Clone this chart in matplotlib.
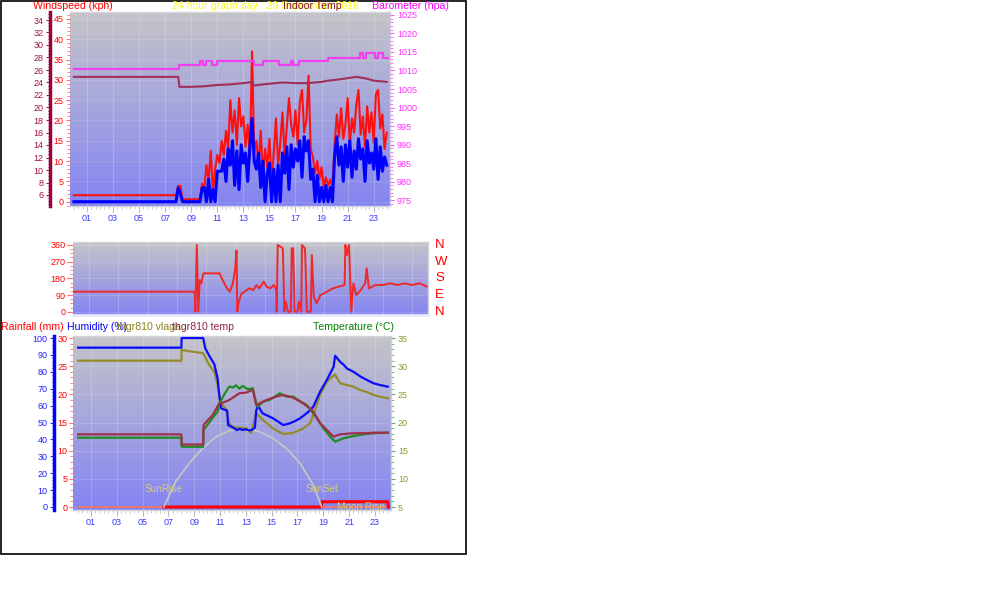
import numpy as np
import matplotlib
matplotlib.use('Agg')
import matplotlib.pyplot as plt
from matplotlib.ticker import FixedLocator, MultipleLocator
from matplotlib.patches import Rectangle

plt.rcParams['font.family'] = ['Liberation Sans', 'DejaVu Sans']

## ---- data ----
# wind, one sample every 10 minutes from 00:00 to 24:00 (kph)
wind_gust = [1.6]*48 + [3.9, 3.9] + [0.6]*9 + [4.5,
    3.0, 9.0, 5.5, 12.5, 2.0, 8.0,
    11.5, 9.5, 15.0, 11.5, 17.5, 13.0,
    25.0, 17.0, 22.5, 14.0, 25.5, 18.5,
    21.0, 13.5, 19.0, 11.0, 37.0, 12.0,
    15.0, 9.0, 17.5, 6.5, 13.0, 8.5,
    15.5, 5.0, 12.0, 20.5, 9.0, 14.5,
    22.0, 11.0, 18.5, 25.5, 19.0, 16.0,
    22.5, 14.0, 24.5, 27.5, 17.0, 20.0,
    31.0, 13.0, 11.0, 7.0, 10.0, 5.5,
    8.5, 3.5, 6.0, 4.0, 5.5, 3.5,
    14.0, 21.5, 16.0, 23.0, 15.5, 19.0,
    25.5, 14.0, 20.5, 17.0, 24.0, 27.5,
    16.5, 21.0, 13.5, 23.5, 17.0, 22.0,
    14.5, 26.5, 27.5, 18.0, 21.5, 13.0, 17.0]
wind_avg = [0.0]*48 + [3.4, 2.0] + [0.0]*9 + [3.3,
    3.5, 0.0, 5.5, 0.0, 3.0, 0.0,
    7.5, 7.5, 7.5, 10.5, 5.0, 13.0,
    9.0, 15.0, 4.0, 12.5, 3.0, 14.0,
    9.5, 12.0, 5.0, 13.5, 20.5, 10.0,
    8.0, 12.0, 3.5, 10.0, 0.0, 7.0,
    9.5, 0.0, 8.0, 0.0, 9.0, 0.0,
    12.0, 7.0, 13.5, 3.0, 14.0, 8.5,
    13.0, 10.0, 15.0, 6.0, 16.0, 12.5,
    15.0, 5.5, 8.0, 0.0, 6.5, 0.0,
    3.5, 0.0, 4.0, 0.0, 3.5, 0.0,
    11.0, 16.0, 9.0, 13.5, 5.0, 14.0,
    8.5, 15.0, 6.0, 12.5, 8.0, 15.5,
    10.5, 13.0, 5.0, 15.0, 9.5, 12.0,
    8.0, 15.5, 5.5, 13.5, 7.5, 11.0, 9.0]
wind_hours = np.arange(len(wind_gust)) / 6.0

# barometer (hpa), steps
baro_hours = [0, 8.03, 9.70, 9.88, 10.14, 10.61, 10.99, 13.82, 14.47, 15.75, 16.65, 16.78, 17.3,
              19.5, 21.98, 22.2, 22.44, 23.09, 23.35, 23.73, 24.1]
baro_vals = [1010.5, 1011.5, 1012.6, 1011.5, 1012.6, 1011.5, 1012.6, 1011.5, 1012.6, 1011.5, 1012.6,
             1011.5, 1012.6, 1013.5, 1014.6, 1013.5, 1014.6, 1013.5, 1014.6, 1013.5, 1013.5]

# indoor temp (C)
indoor_hours = [0, 8.0, 8.1, 9, 10, 11, 12, 13, 13.7, 13.8, 14.5, 15, 16, 17, 18, 19, 19.5, 20, 21, 21.7, 22.5, 23, 24]
indoor_vals = [24.9, 24.9, 23.3, 23.3, 23.4, 23.6, 23.7, 23.9, 24.1, 23.5, 23.7, 23.8, 24.0, 23.9, 23.9,
               24.1, 24.3, 24.4, 24.7, 24.9, 24.6, 24.3, 24.1]

# wind direction (deg)
dir_hours = [0, 8.2, 8.25, 8.35, 8.45, 8.55, 8.65, 8.8, 9.9, 10.1, 10.4, 10.6, 10.8, 10.95, 11.05, 11.1,
             11.2, 11.4, 11.6, 11.9, 12.2, 12.4, 12.6, 12.9, 13.1, 13.35, 13.6, 13.75, 13.78, 13.85, 14.2,
             14.3, 14.4, 14.55, 14.75, 14.8, 14.9, 15.0, 15.2, 15.3, 15.45, 15.5, 15.7, 15.72, 15.83, 16.1,
             16.17, 16.3, 16.5, 16.75, 17.0, 17.6, 18.0, 18.4, 18.45, 18.55, 18.7, 18.85, 19.0, 19.2,
             19.5, 19.8, 19.9, 20.05, 20.5, 21.0, 21.5, 22.0, 22.5, 23.0, 23.5, 24.0]
dir_vals = [108, 108, 0, 360, 0, 171, 153, 207, 207, 171, 126, 108, 153, 225, 330, 0,
            54, 99, 108, 126, 117, 144, 126, 162, 135, 126, 144, 117, 0, 360, 342,
            0, 54, 0, 0, 342, 342, 0, 0, 54, 0, 360, 342, 315, 0, 0,
            306, 81, 45, 90, 99, 126, 135, 144, 360, 306, 360, 0, 153, 90,
            117, 153, 234, 126, 144, 144, 153, 144, 153, 144, 153, 135]

# outdoor humidity (%)
hum_hours = [0, 8.0, 8.02, 9.69, 9.85, 10.16, 10.55, 10.81, 10.94, 11.07, 11.55, 11.62, 12.0, 12.3, 12.5,
             12.8, 13.0, 13.3, 13.5, 13.7, 13.8, 13.93, 14.3, 14.7, 15.1, 15.5, 15.9, 16.4, 16.8, 17.2,
             17.7, 18.0, 18.23, 18.75, 19.27, 19.8, 19.92, 20.3, 20.6, 20.83, 21.35, 21.9, 22.4, 22.9,
             23.4, 24.0]
hum_vals = [94.3, 94.3, 100, 100, 94.0, 89.5, 84.6, 76.0, 66.0, 58.4, 57.0, 48.5, 47.0, 45.5, 46.2,
            45.6, 46.0, 45.3, 45.8, 47.0, 57.0, 60.0, 55.4, 54.0, 52.5, 50.5, 48.5, 49.5, 50.8, 52.5,
            55.4, 57.4, 59.4, 68.2, 75.1, 83.0, 89.5, 86.0, 84.0, 82.0, 80.0, 77.1, 75.1, 73.2,
            72.2, 71.2]

# thgr810 vlaga (%)
vlaga_hours = [0, 8.0, 8.02, 9.69, 10.16, 10.55, 10.81, 11.07, 11.46, 11.72, 11.98, 13.02, 13.4, 13.8,
               14.32, 15.1, 15.89, 16.67, 17.45, 17.97, 18.23, 18.49, 18.75, 19.27, 19.9, 20.31, 20.83,
               21.35, 21.87, 22.4, 22.9, 23.4, 24.0]
vlaga_vals = [86.6, 86.6, 92.9, 91.0, 84.0, 80.0, 72.2, 61.4, 58.0, 49.5, 47.2, 46.6, 43.8, 55.4,
              51.5, 46.5, 43.2, 43.8, 46.5, 49.5, 54.4, 60.4, 66.3, 74.1, 78.5, 73.2, 72.2,
              71.2, 69.2, 68.0, 66.3, 65.3, 64.3]

# outdoor temperature (C)
temp_hours = [0, 8.0, 8.02, 9.69, 9.72, 10.42, 10.81, 10.94, 11.46, 11.72, 11.98, 12.24, 12.5, 12.76,
              13.15, 13.54, 13.8, 13.93, 14.32, 14.84, 15.63, 16.15, 16.67, 17.19, 17.71, 18.1, 18.5,
              19.0, 19.53, 19.92, 20.57, 21.35, 22.1, 22.9, 24.0]
temp_vals = [17.3, 17.3, 15.7, 15.7, 18.7, 20.8, 21.9, 23.4, 25.5, 26.4, 26.2, 26.6, 26.0, 26.5,
             25.9, 26.1, 23.4, 22.8, 23.7, 24.0, 25.2, 24.6, 24.6, 23.8, 23.1, 22.0, 20.8,
             19.0, 17.5, 16.6, 17.2, 17.6, 17.9, 18.1, 18.2]

# thgr810 temp (C)
t810_hours = [0, 8.0, 8.02, 9.69, 9.72, 10.42, 10.94, 11.2, 11.72, 12.5, 13.0, 13.54, 13.8, 14.06, 14.6,
              15.37, 15.89, 16.67, 17.45, 17.97, 18.23, 18.75, 19.53, 19.79, 20.31, 21.35, 22.4, 22.9, 24.0]
t810_vals = [17.9, 17.9, 16.1, 16.1, 19.6, 21.3, 23.4, 23.5, 24.0, 25.2, 25.3, 25.8, 23.1, 23.4, 24.0,
             24.6, 24.9, 24.4, 23.4, 22.5, 21.9, 19.9, 18.1, 17.5, 17.9, 18.1, 18.1, 18.2, 18.2]

# sun elevation curve (drawn in humidity units)
sun_hours = [6.64, 7.55, 8.6, 9.64, 10.7, 11.7, 12.9, 14.06, 15.1, 16.15, 17.2, 18.23, 18.88]
sun_vals = [0, 15, 25.8, 34.7, 41.6, 45.1, 46.6, 44.6, 40.7, 34.7, 25.9, 13, 0]

# rainfall (mm) and sun / moon indicator
rain_hours = [0, 24]
rain_vals = [0, 0]
moon_hours = [6.64, 18.85, 18.9, 24.0, 24.05]
moon_vals = [0, 0, 0.94, 0.94, 0]

hour_labels = ['%02d' % h for h in range(1, 24, 2)]
compass = ['N', 'W', 'S', 'E', 'N']
compass_deg = [360, 270, 180, 90, 0]

W, H = 1008, 615
PX = 72. / 100  # points per pixel


def box(x0, y0, x1, y1):
    return [x0/W, 1-y1/H, (x1-x0)/W, (y1-y0)/H]


def backdrop(ax):
    g = np.linspace(0, 1, 256)
    top = np.array([196, 196, 200])/255.
    mid = np.array([168, 168, 220])/255.
    bot = np.array([132, 132, 242])/255.
    img = np.zeros((256, 1, 3))
    for i, t in enumerate(g):
        if t < 0.45:
            img[i, 0] = top + (mid-top)*t/0.45
        else:
            img[i, 0] = mid + (bot-mid)*(t-0.45)/0.55
    ax.imshow(img, extent=[0, 1, 0, 1], transform=ax.transAxes, aspect='auto', zorder=0, interpolation='bilinear')


def hour_axis(ax, show):
    ax.xaxis.set_major_locator(FixedLocator(range(1, 24, 2)))
    ax.xaxis.set_minor_locator(FixedLocator(np.arange(0, 24.01, 1/3.)))
    if show:
        ax.set_xticklabels(hour_labels)
        ax.tick_params(axis='x', which='major', colors='#b8b8b8', labelcolor='#3a3aff', length=4, labelsize=6.5, pad=2)
        ax.tick_params(axis='x', which='minor', colors='#c0c0c0', length=2.5)
    else:
        ax.tick_params(axis='x', which='both', bottom=False, labelbottom=False)
    ax.grid(True, axis='x', color='white', alpha=0.2, lw=0.8)


def plain_frame(ax, col='#d4d4dc'):
    for s in ax.spines.values():
        s.set_color(col)
        s.set_linewidth(1)


fig = plt.figure(figsize=(W/100., H/100.), dpi=100)

## ---------- top panel : wind, barometer, indoor temp ----------
ax_w = fig.add_axes(box(70, 12, 390, 206))
backdrop(ax_w)
ax_w.plot(wind_hours, wind_gust, color='#ff1010', lw=1.5, zorder=3)
ax_w.plot(wind_hours, wind_avg, color='#0000ff', lw=2.2, zorder=4)
ax_w.set_xlim(-0.3, 24.25)
ax_w.set_ylim(-1.06, 46.7)
ax_w.yaxis.set_major_locator(FixedLocator(range(0, 46, 5)))
ax_w.yaxis.set_minor_locator(MultipleLocator(1))
ax_w.tick_params(axis='y', which='major', colors='#ff7070', labelcolor='#ff0000', length=3, labelsize=6.5, pad=1.5)
ax_w.tick_params(axis='y', which='minor', colors='#ff7070', length=2)
ax_w.grid(True, axis='y', color='white', alpha=0.12, lw=0.8)
hour_axis(ax_w, True)
plain_frame(ax_w)
ax_w.spines['left'].set_visible(False)

ax_t = ax_w.twinx()
ax_t.plot(indoor_hours, indoor_vals, color='#a0305a', lw=1.5)
ax_t.set_ylim(4.24, 35.28)
ax_t.yaxis.set_ticks_position('left')
ax_t.spines['left'].set_visible(True)
ax_t.spines['left'].set_position(('outward', 20*PX))
ax_t.spines['left'].set_color('#990040')
ax_t.spines['left'].set_linewidth(2.5)
for s in ['right', 'top', 'bottom']:
    ax_t.spines[s].set_visible(False)
ax_t.yaxis.set_major_locator(FixedLocator(range(6, 35, 2)))
ax_t.yaxis.set_minor_locator(MultipleLocator(0.5))
ax_t.tick_params(axis='y', which='major', colors='#a02050', labelcolor='#a01040', length=3, labelsize=6.5, pad=1.5)
ax_t.tick_params(axis='y', which='minor', colors='#a02050', length=1.5)

ax_p = ax_w.twinx()
ax_p.step(baro_hours, baro_vals, where='post', color='#f040f0', lw=1.6)
ax_p.set_ylim(973.4, 1025.8)
ax_p.yaxis.set_major_locator(FixedLocator(range(975, 1026, 5)))
ax_p.yaxis.set_minor_locator(MultipleLocator(1))
ax_p.tick_params(axis='y', which='major', colors='#ff60ff', labelcolor='#ff30ff', length=3, labelsize=6.5, pad=2)
ax_p.tick_params(axis='y', which='minor', colors='#ff60ff', length=2)
for s in ['left', 'top', 'bottom', 'right']:
    ax_p.spines[s].set_visible(False)

fig.text(33/W, 1-6/H, 'Windspeed (kph)', color='#ff0000', fontsize=7.6, va='center')
fig.text(265/W, 1-6/H, '24 hour graph day : 20 September 2016', color='#ffff00', fontsize=7.6, va='center', ha='center')
fig.text(283/W, 1-6/H, 'Indoor Temp', color='#801030', fontsize=7.6, va='center')
fig.text(372/W, 1-6/H, 'Barometer (hpa)', color='#ff00ff', fontsize=7.6, va='center')

## ---------- middle panel : wind direction ----------
ax_d = fig.add_axes(box(73, 242, 428, 315))
backdrop(ax_d)
ax_d.plot(dir_hours, dir_vals, color='#f02828', lw=1.4)
ax_d.set_xlim(-0.07, 24.07)
ax_d.set_ylim(-17.8, 376)
ax_d.yaxis.set_major_locator(FixedLocator([0, 90, 180, 270, 360]))
ax_d.yaxis.set_minor_locator(MultipleLocator(22.5))
ax_d.tick_params(axis='y', which='major', colors='#ff7070', labelcolor='#ff0000', length=4, labelsize=6.5, pad=1.5)
ax_d.tick_params(axis='y', which='minor', colors='#ff7070', length=2.5)
ax_d.grid(True, axis='y', color='white', alpha=0.15, lw=0.8)
hour_axis(ax_d, False)
plain_frame(ax_d)
ax_d.spines['left'].set_visible(False)
ax_d.spines['bottom'].set_color('#e8e8ff')
ax_d.spines['bottom'].set_linewidth(2)
for lab, deg in zip(compass, compass_deg):
    ax_d.text(1.02, deg, lab, transform=ax_d.get_yaxis_transform(), color='#ff0000',
              fontsize=9.5, va='center', ha='left')

## ---------- bottom panel : rain, humidity, temperatures ----------
ax_r = fig.add_axes(box(73, 336, 391, 510))
backdrop(ax_r)
ax_r.plot(rain_hours, rain_vals, color='#ff7050', lw=1.2, zorder=3)
ax_r.plot(moon_hours, moon_vals, color='#ff0000', lw=2.2, zorder=3)
ax_r.set_xlim(-0.4, 24.25)
ax_r.set_ylim(-0.53, 30.36)
ax_r.yaxis.set_major_locator(FixedLocator(range(0, 31, 5)))
ax_r.yaxis.set_minor_locator(MultipleLocator(1))
ax_r.tick_params(axis='y', which='major', colors='#ff7070', labelcolor='#ff0000', length=3, labelsize=6.5, pad=1)
ax_r.tick_params(axis='y', which='minor', colors='#ff7070', length=2)
ax_r.grid(True, axis='y', color='white', alpha=0.12, lw=0.8)
hour_axis(ax_r, True)
plain_frame(ax_r)
ax_r.spines['left'].set_visible(False)

ax_h = ax_r.twinx()
ax_h.plot(sun_hours, sun_vals, color='#c8c8c4', lw=1.2)
ax_h.plot(vlaga_hours, vlaga_vals, color='#948c2a', lw=1.6)
ax_h.plot(hum_hours, hum_vals, color='#0a0aff', lw=1.6)
ax_h.set_ylim(-1.78, 101.2)
ax_h.yaxis.set_ticks_position('left')
ax_h.spines['left'].set_visible(True)
ax_h.spines['left'].set_position(('outward', 19*PX))
ax_h.spines['left'].set_color('#0000ff')
ax_h.spines['left'].set_linewidth(2.5)
for s in ['right', 'top', 'bottom']:
    ax_h.spines[s].set_visible(False)
ax_h.yaxis.set_major_locator(FixedLocator(range(0, 101, 10)))
ax_h.yaxis.set_minor_locator(MultipleLocator(2))
ax_h.tick_params(axis='y', which='major', colors='#3030ff', labelcolor='#2020ff', length=3, labelsize=6.5, pad=1.5)
ax_h.tick_params(axis='y', which='minor', colors='#3030ff', length=1.5)
ax_h.text(sun_hours[0], 10.5, 'SunRise', color='#d4cc78', fontsize=7.2, ha='center', va='center')
ax_h.text(sun_hours[-1], 10.5, 'SunSet', color='#d4cc78', fontsize=7.2, ha='center', va='center')

ax_c = ax_r.twinx()
ax_c.plot(temp_hours, temp_vals, color='#1e8c1e', lw=1.6)
ax_c.plot(t810_hours, t810_vals, color='#a0304a', lw=1.6)
ax_c.set_ylim(4.47, 35.36)
ax_c.yaxis.set_major_locator(FixedLocator(range(5, 36, 5)))
ax_c.yaxis.set_minor_locator(MultipleLocator(1))
ax_c.tick_params(axis='y', which='major', colors='#60b060', labelcolor='#8c9a2a', length=3, labelsize=6.5, pad=2)
ax_c.tick_params(axis='y', which='minor', colors='#60b060', length=2)
for s in ['left', 'top', 'bottom', 'right']:
    ax_c.spines[s].set_visible(False)
ax_c.text(21.9, 5.05, 'Moon Rise', color='#d4cc78', fontsize=7.2, ha='center', va='center')

fig.text(1/W, 1-327/H, 'Rainfall (mm)', color='#ff0000', fontsize=7.6, va='center')
fig.text(67/W, 1-327/H, 'Humidity (%)', color='#0000ff', fontsize=7.6, va='center')
fig.text(117/W, 1-327/H, 'thgr810 vlaga', color='#8c8420', fontsize=7.6, va='center')
fig.text(172/W, 1-327/H, 'thgr810 temp', color='#902040', fontsize=7.6, va='center')
fig.text(313/W, 1-327/H, 'Temperature (\u00b0C)', color='#008000', fontsize=7.6, va='center')

## outer frame
fig.add_artist(Rectangle((0.5/W, 1-554/H), 465/W, 553.5/H, transform=fig.transFigure,
                         fill=False, ec='black', lw=1.2))

fig.savefig('out.png', dpi=100)
